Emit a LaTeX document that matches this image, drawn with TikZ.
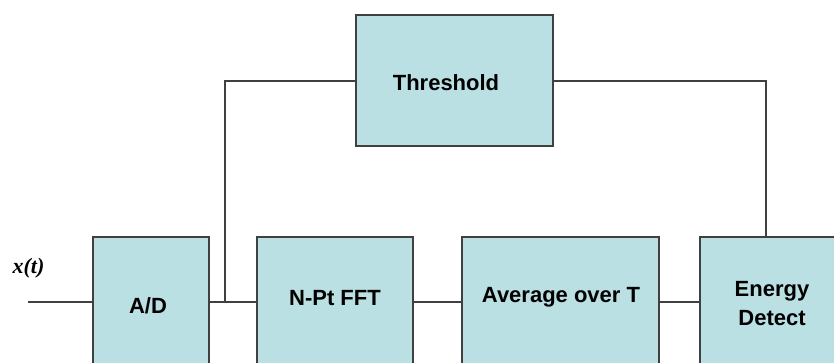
\documentclass[tikz,border=0pt]{standalone}
\usepackage{fontspec}
\setmainfont{Liberation Sans}
\newfontfamily\sigfont{Liberation Serif}
\begin{document}
\begin{tikzpicture}[x=1pt,y=-1pt,
  blk/.style={draw=linegray, fill=blockfill, line width=1.6pt, inner sep=0pt},
  lbl/.style={font=\fontsize{22}{29}\selectfont\bfseries, align=center, inner sep=0pt},
  wire/.style={draw=linegray, line width=1.6pt}]
\definecolor{blockfill}{RGB}{186,224,228}
\definecolor{linegray}{RGB}{64,64,64}
\useasboundingbox (0,0) rectangle (834,363);
\clip (0,0) rectangle (834,363);

% processing blocks (lower ends run past the frame)
\node[blk, minimum width=116, minimum height=130] (ad)  at (151,302) {};
\node[blk, minimum width=156, minimum height=130] (fft) at (335,302) {};
\node[blk, minimum width=197, minimum height=130] (avg) at (560.5,302) {};
\node[blk, minimum width=150, minimum height=130] (ed)  at (775,302) {};
\node[blk, minimum width=197, minimum height=131] (th)  at (454.5,80.5) {};

% block captions
\node[lbl] (tadl)  at (148,306) {A/D};
\node[lbl] (tfft)  at (335,298) {N-Pt FFT};
\node[lbl] (tavg)  at (561,297) {Average over T};
\node[lbl] (ted)   at (772,304) {Energy\\Detect};
\node[lbl] (tth)   at (446,83)  {Threshold};
\node[font=\sigfont\fontsize{22}{26}\selectfont\bfseries\itshape, inner sep=0pt] (xin) at (28.5,268) {x(t)};

% signal path
\coordinate (src) at (28,302);
\coordinate (tap) at (225,302);
\coordinate (tapup) at (225,81);
\coordinate (edup) at (766,81);
\draw[wire] (src) -- (ad.west);
\draw[wire] (ad.east) -- (fft.west);
\draw[wire] (fft.east) -- (avg.west);
\draw[wire] (avg.east) -- (ed.west);
\draw[wire] (tap) -- (tapup) -- (th.west |- tapup);
\draw[wire] (th.east |- edup) -- (edup) -- (edup |- ed.north);
\end{tikzpicture}
\end{document}
